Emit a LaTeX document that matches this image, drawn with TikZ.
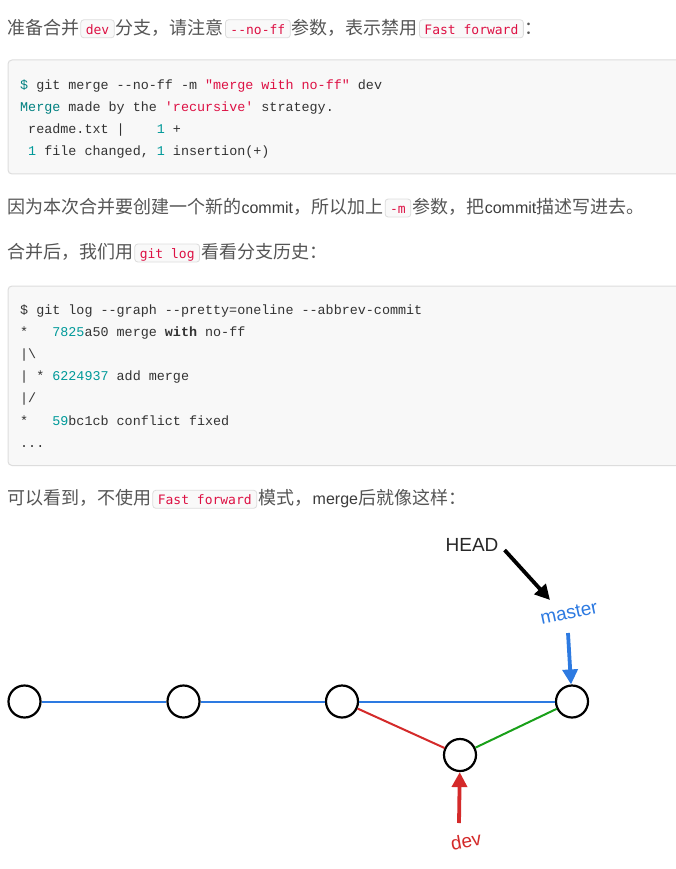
\documentclass[tikz,border=0pt]{standalone}
\usepackage{fontspec}
\usepackage{tikz}
\usetikzlibrary{positioning,arrows.meta}

\newfontfamily\cjkfont{Noto Sans CJK SC}
\newfontfamily\latinfont{Liberation Sans}
\newfontfamily\codefont{Liberation Mono}
\newfontfamily\inlinefont{DejaVu Sans Mono}

\begin{document}
\begin{tikzpicture}[x=1pt,y=-1pt,
  para/.style={font=\cjkfont\fontsize{18}{22}\selectfont, text=textgray, inner sep=0pt},
  word/.style={font=\latinfont\fontsize{16}{20}\selectfont, text=wordgray, inner sep=0pt},
  inl/.style={font=\inlinefont\fontsize{13}{16}\selectfont, text=codered, fill=inlinebg,
    draw=inlineborder, line width=0.8pt, rounded corners=3pt, inner xsep=5pt,
    inner ysep=2.5pt, text height=12pt, text depth=1pt},
  codeline/.style={font=\codefont\fontsize{13.4}{22}\selectfont, text=codegray,
    inner sep=0pt, anchor=base west},
  codebox/.style={fill=codebg, draw=codeborder, line width=1pt, rounded corners=4pt},
  commit/.style={circle, draw=black, fill=white, line width=2.2pt, minimum size=32pt, inner sep=0pt},
  branch/.style={font=\latinfont\fontsize{19}{22}\selectfont, inner sep=2pt},
  pointer/.style={line width=3.8pt, draw=#1, -{Triangle[length=15pt,width=15pt]}}
]

% Couleurs
\definecolor{textgray}{RGB}{85,85,85}
\definecolor{wordgray}{RGB}{60,60,60}
\definecolor{codered}{RGB}{221,17,68}
\definecolor{inlinebg}{RGB}{249,249,249}
\definecolor{inlineborder}{RGB}{221,221,221}
\definecolor{codebg}{RGB}{248,248,248}
\definecolor{codeborder}{RGB}{221,221,221}
\definecolor{codegray}{RGB}{51,51,51}
\definecolor{codeteal}{RGB}{0,128,128}
\definecolor{codenum}{RGB}{0,153,153}
\definecolor{gitblue}{RGB}{45,122,225}
\definecolor{gitred}{RGB}{212,42,42}
\definecolor{gitgreen}{RGB}{25,160,25}
\definecolor{headgray}{RGB}{40,40,40}

% Fond de page
\path[use as bounding box, fill=white] (0,0) rectangle (675,869);

% Ligne 1
\node[para, anchor=base west] (l1a) at (7,34.3) {准备合并};
\node[inl, base right=1pt of l1a] (l1b) {dev};
\node[para, base right=1pt of l1b] (l1c) {分支，请注意};
\node[inl, base right=1pt of l1c] (l1d) {-{}-no-ff};
\node[para, base right=1pt of l1d] (l1e) {参数，表示禁用};
\node[inl, base right=1pt of l1e] (l1f) {Fast forward};
\node[para, base right=1pt of l1f] (l1g) {：};

% Premier bloc de code
\draw[codebox] (8,60) rectangle (684,174);
\node[codeline] (m1) at (20,89.5) {{\color{codeteal}\$} git merge -{}-no-ff -m {\color{codered}"merge with no-ff"} dev};
\node[codeline] (m2) at (20,111.6) {{\color{codeteal}Merge} made by the {\color{codered}'recursive'} strategy.};
\node[codeline] (m3) at (20,133.7) {\ readme.txt |\ \ \ \ {\color{codenum}1} +};
\node[codeline] (m4) at (20,155.8) {\ {\color{codenum}1} file changed, {\color{codenum}1} insertion(+)};

% Ligne 2
\node[para, anchor=base west] (l2a) at (7,213.5) {因为本次合并要创建一个新的};
\node[word, base right=0pt of l2a] (l2b) {commit};
\node[para, base right=0pt of l2b] (l2c) {，所以加上};
\node[inl, base right=1pt of l2c] (l2d) {-m};
\node[para, base right=1pt of l2d] (l2e) {参数，把};
\node[word, base right=0pt of l2e] (l2f) {commit};
\node[para, base right=0pt of l2f] (l2g) {描述写进去。};

% Ligne 3
\node[para, anchor=base west] (l3a) at (7,258.5) {合并后，我们用};
\node[inl, base right=1pt of l3a] (l3b) {git log};
\node[para, base right=1pt of l3b] (l3c) {看看分支历史：};

% Second bloc de code
\draw[codebox] (8,286) rectangle (684,465.5);
\node[codeline] (g1) at (20,314.5) {\$ git log -{}-graph -{}-pretty=oneline -{}-abbrev-commit};
\node[codeline] (g2) at (20,336.6) {*\ \ \ {\color{codenum}7825}a50 merge {\bfseries with} no-ff};
\node[codeline] (g3) at (20,358.7) {|\textbackslash};
\node[codeline] (g4) at (20,380.8) {| * {\color{codenum}6224937} add merge};
\node[codeline] (g5) at (20,402.9) {|/};
\node[codeline] (g6) at (20,425) {*\ \ \ {\color{codenum}59}bc1cb conflict fixed};
\node[codeline] (g7) at (20,447.1) {...};

% Ligne 4
\node[para, anchor=base west] (l4a) at (7,504.8) {可以看到，不使用};
\node[inl, base right=1pt of l4a] (l4b) {Fast forward};
\node[para, base right=1pt of l4b] (l4c) {模式，};
\node[word, base right=0pt of l4c] (l4d) {merge};
\node[para, base right=0pt of l4d] (l4e) {后就像这样：};

% Graphe des commits
\node[commit] (c1) at (24.5,701.5) {};
\node[commit] (c2) at (183.5,701.5) {};
\node[commit] (c3) at (342,701.5) {};
\node[commit] (c4) at (572,701.5) {};
\node[commit] (c5) at (460,755) {};

\draw[gitblue, line width=2pt] (c1) -- (c2);
\draw[gitblue, line width=2pt] (c2) -- (c3);
\draw[gitblue, line width=2pt] (c3) -- (c4);
\draw[gitred, line width=2pt] (c3) -- (c5);
\draw[gitgreen, line width=2pt] (c5) -- (c4);

% Pointeurs
\node[branch, text=headgray] (head) at (472,545.3) {HEAD};
\node[branch, text=gitblue, rotate=12] (master) at (569,613) {master};
\node[branch, text=gitred, rotate=10] (dev) at (466,841) {dev};

\coordinate (headtip) at (550,600);
\coordinate (mastertail) at (568,633);
\coordinate (devtail) at (459,823);

\draw[pointer=black] ([xshift=4pt,yshift=4pt]head.south east) -- (headtip);
\draw[pointer=gitblue] (mastertail) -- (c4);
\draw[pointer=gitred] (devtail) -- (c5);

\end{tikzpicture}
\end{document}
